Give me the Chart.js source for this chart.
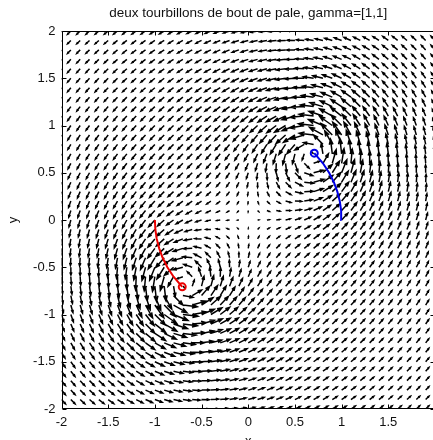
<!DOCTYPE html>
<html><head><meta charset="utf-8">
<script src="https://cdn.jsdelivr.net/npm/chart.js@4/dist/chart.umd.min.js"></script>
<style>html,body{margin:0;padding:0;overflow:hidden;background:#fff;width:433px;height:440px}</style>
</head><body>
<canvas id="c" width="480" height="460" style="width:480px;height:460px;display:block"></canvas>
<script>
// ---- data ----
const titleText = 'deux tourbillons de bout de pale, gamma=[1,1]';
const xTicks = [-2, -1.5, -1, -0.5, 0, 0.5, 1, 1.5, 2];
const yTicks = [-2, -1.5, -1, -0.5, 0, 0.5, 1, 1.5, 2];
// vortex positions (markers) and circulations (gamma=[1,1])
const vortexX = [-0.707, 0.707];
const vortexY = [-0.707, 0.707];
const gamma = [1, 1];
const coreRadius = 0.28;
// trajectories of the two vortices
const redX = [-1.00, -0.995, -0.98, -0.954, -0.917, -0.866, -0.80, -0.707];
const redY = [0.00, -0.10, -0.20, -0.30, -0.40, -0.50, -0.60, -0.707];
const blueX = [1.00, 0.995, 0.98, 0.954, 0.917, 0.866, 0.80, 0.707];
const blueY = [0.00, 0.10, 0.20, 0.30, 0.40, 0.50, 0.60, 0.707];
// quiver grid
const gridStep = 0.1;
const arrowScale = 0.48;

const gridX = [], gridY = [];
for (let i = 0; i <= 40; i++) { gridX.push(Math.round((-2 + i * gridStep) * 10) / 10); gridY.push(Math.round((-2 + i * gridStep) * 10) / 10); }

const GAP = () => ({x: NaN, y: NaN});
const arrowData = [];
for (const x of gridX) {
  for (const y of gridY) {
    let u = 0, v = 0;
    for (let k = 0; k < vortexX.length; k++) {
      const dx = x - vortexX[k], dy = y - vortexY[k];
      const f = gamma[k] / (2 * Math.PI * (dx * dx + dy * dy + coreRadius * coreRadius));
      u += -dy * f; v += dx * f;
    }
    const ax = u * arrowScale, ay = v * arrowScale;
    const L = Math.hypot(ax, ay);
    if (L < 1e-6) continue;
    const tx = x + ax, ty = y + ay;
    // MATLAB-like head: tip - h*(a +/- w*a_perp)
    const h = 0.36, w = 0.36;
    const w1 = {x: tx - h * (ax + w * ay), y: ty - h * (ay - w * ax)};
    const w2 = {x: tx - h * (ax - w * ay), y: ty - h * (ay + w * ax)};
    arrowData.push({x: x, y: y}, {x: tx, y: ty}, GAP(), w1, {x: tx, y: ty}, w2, GAP());
  }
}

const pts = (xs, ys) => xs.map((x, i) => ({x: x, y: ys[i]}));
const last = (xs, ys) => [{x: xs[xs.length - 1], y: ys[ys.length - 1]}];

const FONT = 'Liberation Sans, Arial, Helvetica, sans-serif';

const boxPlugin = {
  id: 'box',
  afterDatasetsDraw(chart) {
    const {ctx, chartArea: a, scales} = chart;
    const sx = scales.x, sy = scales.y;
    ctx.save();
    ctx.strokeStyle = '#000';
    ctx.lineWidth = 1;
    const L = Math.round(a.left) + 0.5, R = Math.round(a.right) - 0.5;
    const T = Math.round(a.top) + 0.5, B = Math.round(a.bottom) - 0.5;
    ctx.beginPath();
    ctx.rect(L, T, R - L, B - T);
    const tl = 4;
    for (const v of xTicks) {
      const px = Math.round(sx.getPixelForValue(v)) + 0.5;
      ctx.moveTo(px, B); ctx.lineTo(px, B - tl);
      ctx.moveTo(px, T); ctx.lineTo(px, T + tl);
    }
    for (const v of yTicks) {
      const py = Math.round(sy.getPixelForValue(v)) + 0.5;
      ctx.moveTo(L, py); ctx.lineTo(L + tl, py);
      ctx.moveTo(R, py); ctx.lineTo(R - tl, py);
    }
    ctx.stroke();
    ctx.restore();
  }
};

new Chart(document.getElementById('c'), {
  type: 'line',
  data: {
    datasets: [
      {type: 'scatter', data: last(redX, redY), pointRadius: 3.5, borderWidth: 2, pointBorderColor: 'rgb(235,0,0)', pointBackgroundColor: 'rgba(0,0,0,0)', showLine: false},
      {type: 'scatter', data: last(blueX, blueY), pointRadius: 3.5, borderWidth: 2, pointBorderColor: 'rgb(0,0,230)', pointBackgroundColor: 'rgba(0,0,0,0)', showLine: false},
      {data: pts(redX, redY), borderColor: 'rgb(235,0,0)', borderWidth: 2, pointRadius: 0, fill: false},
      {data: pts(blueX, blueY), borderColor: 'rgb(0,0,230)', borderWidth: 2, pointRadius: 0, fill: false},
      {data: arrowData, borderColor: '#000', borderWidth: 1.5, pointRadius: 0, spanGaps: false, fill: false, borderDash: [10000, 0], borderCapStyle: 'butt'}
    ]
  },
  options: {
    responsive: false,
    animation: false,
    events: [],
    layout: {padding: {left: 0, right: 45, top: 0, bottom: 0}},
    plugins: {legend: {display: false}, tooltip: {enabled: false}, title: {display: false}},
    scales: {
      x: {
        type: 'linear', position: 'bottom', min: -2, max: 2,
        grid: {display: false, drawTicks: false}, border: {display: false},
        ticks: {stepSize: 0.5, padding: 6, color: '#111', font: {family: FONT, size: 13}, maxRotation: 0, autoSkip: false,
          callback: (v) => (v === 2 ? '' : String(v))},
        title: {display: true, text: 'x', color: '#111', font: {family: FONT, size: 13}, padding: {top: 0, bottom: 11}},
        afterFit: (s) => { s.height = 51; }
      },
      x2: {
        type: 'linear', position: 'top', min: -2, max: 2,
        grid: {display: false, drawTicks: false}, border: {display: false},
        ticks: {display: false},
        title: {display: true, text: titleText, color: '#111', font: {family: FONT, size: 13.5}, padding: {top: 5, bottom: 0}},
        afterFit: (s) => { s.height = 31; }
      },
      y: {
        type: 'linear', position: 'left', min: -2, max: 2,
        grid: {display: false, drawTicks: false}, border: {display: false},
        ticks: {stepSize: 0.5, padding: 6, color: '#111', font: {family: FONT, size: 13}, callback: (v) => String(v)},
        title: {display: true, text: 'y', color: '#111', font: {family: FONT, size: 13}, padding: {top: 6, bottom: 0}},
        afterFit: (s) => { s.width = 61.5; }
      }
    }
  },
  plugins: [boxPlugin]
});
</script>
</body></html>
